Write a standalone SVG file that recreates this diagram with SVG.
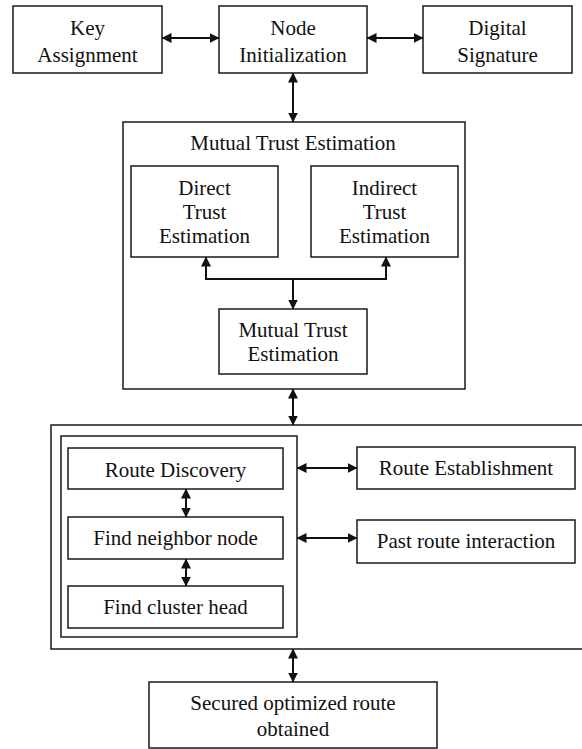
<svg xmlns="http://www.w3.org/2000/svg" width="582" height="749" viewBox="0 0 582 749" font-family="Liberation Serif, DejaVu Serif, serif">
<style>
.box{fill:#fff;stroke:#1a1a1a;stroke-width:1.5}
.frame{fill:none;stroke:#1a1a1a;stroke-width:1.5}
.t{font-family:"Liberation Serif",serif;font-size:21px;fill:#111;text-anchor:middle}
.c{fill:none;stroke:#111;stroke-width:2}
</style>
<defs>
<marker id="ah" viewBox="0 0 10 10" refX="9.5" refY="5" markerWidth="10" markerHeight="10" markerUnits="userSpaceOnUse" orient="auto-start-reverse">
<path d="M0,0 L10,5 L0,10 Z" fill="#111"/>
</marker>
</defs>
<rect width="582" height="749" fill="#fff"/>
<g id="key-assignment"><rect class="box" x="13" y="6" width="149" height="67"/><text class="t" x="87.5" y="35">Key</text><text class="t" x="87.5" y="62">Assignment</text></g>
<g id="node-initialization"><rect class="box" x="219" y="6" width="148" height="67"/><text class="t" x="293" y="35">Node</text><text class="t" x="293" y="62">Initialization</text></g>
<g id="digital-signature"><rect class="box" x="423" y="6" width="149" height="67"/><text class="t" x="497.5" y="35">Digital</text><text class="t" x="497.5" y="62">Signature</text></g>
<g id="mutual-trust-group"><rect class="frame" x="123" y="122" width="342" height="267"/><text class="t" x="293" y="150">Mutual Trust Estimation</text></g>
<g id="direct-trust"><rect class="box" x="131" y="166" width="147" height="91"/><text class="t" x="204.5" y="195">Direct</text><text class="t" x="204.5" y="219">Trust</text><text class="t" x="204.5" y="243">Estimation</text></g>
<g id="indirect-trust"><rect class="box" x="311" y="166" width="147" height="91"/><text class="t" x="384.5" y="195">Indirect</text><text class="t" x="384.5" y="219">Trust</text><text class="t" x="384.5" y="243">Estimation</text></g>
<g id="mutual-trust"><rect class="box" x="219" y="309" width="148" height="65"/><text class="t" x="293" y="337">Mutual Trust</text><text class="t" x="293" y="361">Estimation</text></g>
<g id="routing-group"><rect class="frame" x="51" y="425" width="545" height="224"/></g>
<g id="route-phase"><rect class="frame" x="61" y="436" width="236" height="201"/></g>
<g id="route-discovery"><rect class="box" x="68" y="448" width="215" height="41"/><text class="t" x="175.5" y="477">Route Discovery</text></g>
<g id="find-neighbor"><rect class="box" x="68" y="517" width="215" height="42"/><text class="t" x="175.5" y="545">Find neighbor node</text></g>
<g id="find-cluster-head"><rect class="box" x="68" y="586" width="215" height="42"/><text class="t" x="175.5" y="614">Find cluster head</text></g>
<g id="route-establishment"><rect class="box" x="357" y="447" width="218" height="42"/><text class="t" x="466" y="475">Route Establishment</text></g>
<g id="past-route"><rect class="box" x="357" y="520" width="218" height="43"/><text class="t" x="466" y="548">Past route interaction</text></g>
<g id="secured-route"><rect class="box" x="149" y="682" width="288" height="66"/><text class="t" x="293" y="710">Secured optimized route</text><text class="t" x="293" y="736">obtained</text></g>
<g id="connectors">
<line class="c" x1="162" y1="38" x2="219" y2="38" marker-start="url(#ah)" marker-end="url(#ah)"/>
<line class="c" x1="367" y1="38" x2="423" y2="38" marker-start="url(#ah)" marker-end="url(#ah)"/>
<line class="c" x1="293" y1="73" x2="293" y2="122" marker-start="url(#ah)" marker-end="url(#ah)"/>
<polyline class="c" points="206,257 206,279 386,279 386,257" marker-start="url(#ah)" marker-end="url(#ah)"/>
<line class="c" x1="293" y1="279" x2="293" y2="309" marker-end="url(#ah)"/>
<line class="c" x1="293" y1="389" x2="293" y2="425" marker-start="url(#ah)" marker-end="url(#ah)"/>
<line class="c" x1="186" y1="489" x2="186" y2="517" marker-start="url(#ah)" marker-end="url(#ah)"/>
<line class="c" x1="186" y1="559" x2="186" y2="586" marker-start="url(#ah)" marker-end="url(#ah)"/>
<line class="c" x1="297" y1="468" x2="357" y2="468" marker-start="url(#ah)" marker-end="url(#ah)"/>
<line class="c" x1="297" y1="538" x2="357" y2="538" marker-start="url(#ah)" marker-end="url(#ah)"/>
<line class="c" x1="293" y1="649" x2="293" y2="682" marker-start="url(#ah)" marker-end="url(#ah)"/>
</g>
</svg>
